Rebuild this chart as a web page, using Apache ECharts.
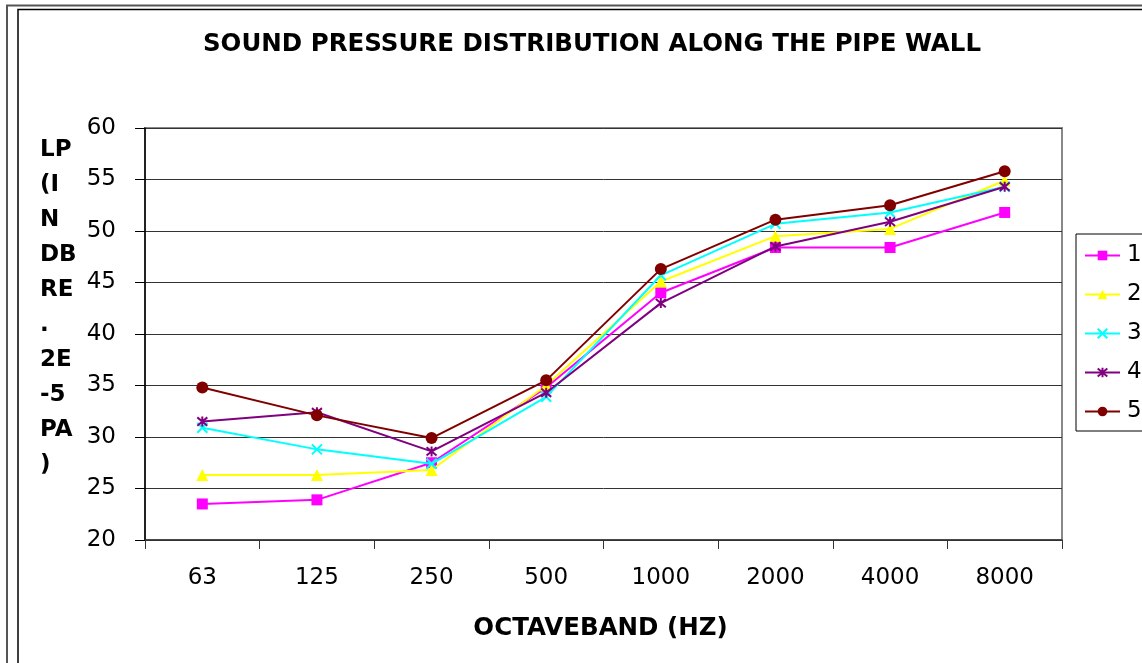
<!DOCTYPE html>
<html>
<head>
<meta charset="utf-8">
<script src="https://cdn.jsdelivr.net/npm/echarts@6/dist/echarts.min.js"></script>
<style>
html,body{margin:0;padding:0;background:#fff;}
#chart{width:1142px;height:663px;}
</style>
</head>
<body>
<div id="chart"></div>
<script>
const categories = ['63', '125', '250', '500', '1000', '2000', '4000', '8000'];
const seriesNames = ['1', '2', '3', '4', '5'];
const s1 = [23.5, 23.9, 27.5, 34.8, 44.0, 48.4, 48.4, 51.8];
const s2 = [26.3, 26.3, 26.8, 35.0, 45.1, 49.5, 50.2, 54.9];
const s3 = [30.9, 28.8, 27.4, 33.9, 45.7, 50.7, 51.8, 54.3];
const s4 = [31.5, 32.4, 28.6, 34.3, 43.0, 48.5, 50.9, 54.3];
const s5 = [34.8, 32.1, 29.9, 35.5, 46.3, 51.1, 52.5, 55.8];
const yTicks = { min: 20, max: 60, interval: 5 };

const FONT = 'DejaVu Sans';
const xPath = 'path://M0,0L10,10M10,0L0,10';
const starPath = 'path://M0,0L10,10M10,0L0,10M5,-1L5,11';

const styles = [
  { color: '#FF00FF', symbol: 'rect', size: 11 },
  { color: '#FFFF00', symbol: 'triangle', size: 12 },
  { color: '#00FFFF', symbol: xPath, size: 10 },
  { color: '#800080', symbol: starPath, size: 10 },
  { color: '#800000', symbol: 'circle', size: 12 }
];
const allData = [s1, s2, s3, s4, s5];

const series = allData.map((d, i) => ({
  name: seriesNames[i],
  type: 'line',
  data: d,
  symbol: styles[i].symbol,
  symbolSize: styles[i].size,
  lineStyle: { color: styles[i].color, width: 2 },
  itemStyle: { color: styles[i].color, borderColor: styles[i].color, borderWidth: (i === 2 || i === 3) ? 2 : 0 },
  emphasis: { disabled: true },
  animation: false,
  z: 3 + i
}));

const chart = echarts.init(document.getElementById('chart'));
chart.setOption({
  backgroundColor: '#fff',
  animation: false,
  textStyle: { fontFamily: FONT },
  grid: {
    left: 145, right: 80, top: 128, bottom: 123,
    show: true, borderColor: '#888', borderWidth: 2, backgroundColor: 'transparent'
  },
  legend: {
    orient: 'vertical',
    left: 1076, top: 234,
    padding: [10, 30, 8, 8],
    itemWidth: 35, itemHeight: 12, itemGap: 16,
    borderColor: '#000', borderWidth: 1,
    textStyle: { fontFamily: FONT, fontSize: 23, color: '#000', padding: [0, 0, 0, 2] },
    data: seriesNames
  },
  xAxis: {
    type: 'category',
    data: categories,
    boundaryGap: true,
    name: 'OCTAVEBAND (HZ)',
    nameLocation: 'middle',
    nameGap: 76,
    nameTextStyle: { fontFamily: FONT, fontSize: 24.5, fontWeight: 'bold', color: '#000', padding: [0, 0, 0, -6] },
    axisLine: { lineStyle: { color: '#333', width: 1.5 } },
    axisTick: { show: true, length: 9, lineStyle: { color: '#333' } },
    axisLabel: { fontFamily: FONT, fontSize: 23, color: '#000', margin: 27 }
  },
  yAxis: {
    type: 'value',
    min: yTicks.min, max: yTicks.max, interval: yTicks.interval,
    axisLine: { show: true, lineStyle: { color: '#000', width: 1.5 } },
    axisTick: { show: true, length: 10, lineStyle: { color: '#000' } },
    axisLabel: { fontFamily: FONT, fontSize: 23, color: '#000', margin: 29 },
    splitLine: { show: true, lineStyle: { color: '#333', width: 1 } }
  },
  graphic: [
    { type: 'rect', silent: true, shape: { x: 7, y: 5.5, width: 1300, height: 800 }, style: { fill: 'none', stroke: '#555', lineWidth: 2 }, z: -10 },
    { type: 'rect', silent: true, shape: { x: 18, y: 9.5, width: 1300, height: 800 }, style: { fill: 'none', stroke: '#000', lineWidth: 1.5 }, z: -10 },
    { type: 'text', silent: true, x: 592, y: 45,
      style: { text: 'SOUND PRESSURE DISTRIBUTION ALONG THE PIPE WALL', fontFamily: FONT, fontSize: 24.5, fontWeight: 'bold', fill: '#000', textAlign: 'center', textVerticalAlign: 'middle' } },
    { type: 'text', silent: true, x: 40, y: 133,
      style: { text: 'LP\n(I\nN\nDB\nRE\n.\n2E\n-5\nPA\n)', fontFamily: FONT, fontSize: 23, fontWeight: 'bold', fill: '#000', lineHeight: 35, textAlign: 'left', textVerticalAlign: 'top' } }
  ],
  series: series
});
</script>
</body>
</html>
